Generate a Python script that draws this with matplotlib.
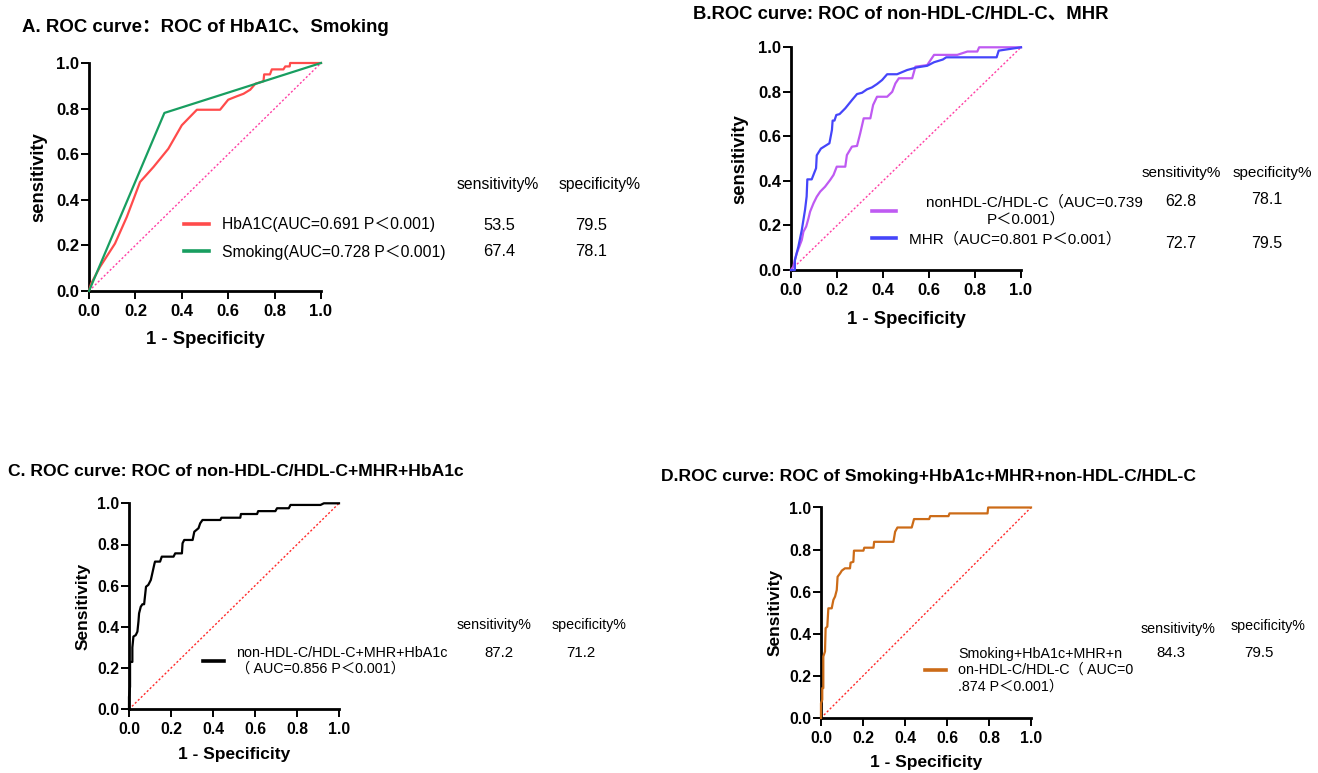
import matplotlib
matplotlib.use('Agg')
import matplotlib.pyplot as plt

plt.rcParams['font.family'] = ['Liberation Sans', 'Noto Sans CJK SC']

# ---- data ----
hba1c_fpr = [0, 0.009, 0.047, 0.112, 0.163, 0.22, 0.278, 0.342, 0.40, 0.465, 0.565, 0.60, 0.637,
             0.666, 0.695, 0.717, 0.752, 0.755, 0.78, 0.788, 0.838, 0.846, 0.865, 0.867, 1.0]
hba1c_tpr = [0, 0.032, 0.105, 0.208, 0.325, 0.478, 0.544, 0.624, 0.727, 0.795, 0.795, 0.839, 0.854,
             0.865, 0.883, 0.909, 0.92, 0.95, 0.95, 0.972, 0.972, 0.985, 0.985, 1.0, 1.0]
smoking_fpr = [0, 0.325, 1.0]
smoking_tpr = [0, 0.781, 1.0]

mhr_fpr = [0, 0.017, 0.017, 0.032, 0.047, 0.061, 0.068, 0.071, 0.09, 0.109, 0.112, 0.13, 0.167,
           0.178, 0.181, 0.189, 0.197, 0.211, 0.236, 0.265, 0.287, 0.309, 0.33, 0.352, 0.374, 0.396,
           0.418, 0.461, 0.505, 0.534, 0.549, 0.592, 0.622, 0.66, 0.675, 0.894, 0.903, 1.0]
mhr_tpr = [0, 0, 0.045, 0.105, 0.18, 0.27, 0.33, 0.407, 0.407, 0.457, 0.515, 0.545, 0.569,
           0.629, 0.671, 0.671, 0.696, 0.70, 0.726, 0.763, 0.79, 0.796, 0.811, 0.82, 0.835, 0.853,
           0.879, 0.879, 0.898, 0.906, 0.91, 0.917, 0.933, 0.945, 0.955, 0.955, 0.985, 1.0]
nonhdl_fpr = [0, 0.01, 0.017, 0.025, 0.036, 0.047, 0.054, 0.066, 0.076, 0.083, 0.098, 0.112, 0.127,
              0.148, 0.17, 0.185, 0.199, 0.236, 0.243, 0.265, 0.287, 0.301, 0.316, 0.345, 0.357,
              0.374, 0.418, 0.44, 0.454, 0.469, 0.527, 0.541, 0.592, 0.622, 0.723, 0.767, 0.81,
              0.818, 1.0]
nonhdl_tpr = [0, 0.015, 0.045, 0.075, 0.105, 0.135, 0.172, 0.195, 0.232, 0.262, 0.30, 0.329, 0.352,
              0.374, 0.404, 0.427, 0.464, 0.464, 0.516, 0.554, 0.557, 0.614, 0.681, 0.681, 0.741,
              0.778, 0.778, 0.80, 0.838, 0.861, 0.861, 0.913, 0.92, 0.966, 0.966, 0.981, 0.981,
              1.0, 1.0]

comb3_fpr = [0, 0, 0.005, 0.005, 0.016, 0.016, 0.021, 0.032, 0.04, 0.045, 0.048, 0.056, 0.064,
             0.072, 0.081, 0.092, 0.104, 0.111, 0.121, 0.124, 0.148, 0.156, 0.212, 0.22, 0.252,
             0.255, 0.263, 0.303, 0.311, 0.331, 0.339, 0.35, 0.435, 0.44, 0.53, 0.533, 0.61, 0.615,
             0.697, 0.705, 0.761, 0.769, 0.912, 0.928, 1.0]
comb3_tpr = [0, 0.06, 0.11, 0.23, 0.23, 0.30, 0.353, 0.36, 0.377, 0.426, 0.466, 0.498, 0.51,
             0.51, 0.595, 0.604, 0.628, 0.66, 0.706, 0.717, 0.717, 0.741, 0.741, 0.757, 0.757,
             0.806, 0.822, 0.822, 0.862, 0.879, 0.903, 0.919, 0.919, 0.93, 0.93, 0.948, 0.948, 0.962,
             0.962, 0.976, 0.976, 0.992, 0.992, 1.0, 1.0]

comb4_fpr = [0, 0, 0.006, 0.006, 0.011, 0.011, 0.019, 0.022, 0.03, 0.035, 0.051, 0.059, 0.067,
             0.075, 0.079, 0.091, 0.099, 0.114, 0.138, 0.141, 0.154, 0.157, 0.202, 0.206, 0.25,
             0.253, 0.345, 0.353, 0.364, 0.432, 0.443, 0.515, 0.52, 0.607, 0.612, 0.793, 0.796, 1.0]
comb4_tpr = [0, 0.07, 0.087, 0.142, 0.142, 0.292, 0.316, 0.427, 0.434, 0.521, 0.521, 0.561, 0.577,
             0.608, 0.671, 0.687, 0.70, 0.711, 0.711, 0.738, 0.742, 0.795, 0.795, 0.809, 0.809,
             0.837, 0.837, 0.885, 0.905, 0.905, 0.945, 0.945, 0.959, 0.959, 0.972, 0.972, 1.0, 1.0]

ticks = [0.0, 0.2, 0.4, 0.6, 0.8, 1.0]

a_labels = ['HbA1C(AUC=0.691 P＜0.001)', 'Smoking(AUC=0.728 P＜0.001)']
a_sens = ['53.5', '67.4']
a_spec = ['79.5', '78.1']
b_labels = ['    nonHDL-C/HDL-C（AUC=0.739\nP＜0.001）', 'MHR（AUC=0.801 P＜0.001）']
b_sens = ['62.8', '72.7']
b_spec = ['78.1', '79.5']
c_labels = ['non-HDL-C/HDL-C+MHR+HbA1c\n（ AUC=0.856 P＜0.001）']
c_sens = ['87.2']
c_spec = ['71.2']
d_labels = ['Smoking+HbA1c+MHR+n\non-HDL-C/HDL-C（ AUC=0\n.874 P＜0.001）']
d_sens = ['84.3']
d_spec = ['79.5']

W, H = 1318, 773
fig = plt.figure(figsize=(W / 100, H / 100), dpi=100)


def px(x, y):
    return x / W, 1 - y / H


def make_axes(left, top, right, bottom, tick_size, label_size, ylabel, xlab_y, ylab_x):
    ax = fig.add_axes([left / W, 1 - bottom / H, (right - left) / W, (bottom - top) / H])
    ax.set_xlim(0, 1)
    ax.set_ylim(0, 1)
    ax.set_xticks(ticks)
    ax.set_yticks(ticks)
    ax.set_xticklabels(['%.1f' % t for t in ticks])
    ax.set_yticklabels(['%.1f' % t for t in ticks])
    ax.spines['top'].set_visible(False)
    ax.spines['right'].set_visible(False)
    ax.spines['left'].set_linewidth(2)
    ax.spines['bottom'].set_linewidth(2)
    ax.tick_params(direction='out', length=5.5, width=1.4, labelsize=tick_size)
    ax.tick_params(axis='x', pad=4)
    ax.tick_params(axis='y', pad=1.5)
    for lab in ax.get_xticklabels() + ax.get_yticklabels():
        lab.set_fontweight('bold')
    ax.set_xlabel('1 - Specificity', fontsize=label_size, fontweight='bold')
    ax.set_ylabel(ylabel, fontsize=label_size, fontweight='bold')
    ax.xaxis.label.set_va('center')
    ax.yaxis.label.set_va('center')
    ax.xaxis.set_label_coords(0.5, (bottom - xlab_y) / (bottom - top))
    ax.yaxis.set_label_coords((ylab_x - left) / (right - left), 0.5)
    return ax


def table(ax, handles, labels, fs, lx, ly, hl, htp, ls, hdr, sens, spec, val_x, sens_y, spec_y,
          multi='left'):
    leg = ax.legend(handles=handles, labels=labels, loc='center left',
                    bbox_to_anchor=px(lx, ly), bbox_transform=fig.transFigure,
                    frameon=False, fontsize=fs, handlelength=hl, handletextpad=htp,
                    labelspacing=ls, borderpad=0, borderaxespad=0)
    for l in leg.get_lines():
        l.set_linewidth(2.6)
    for t in leg.get_texts():
        t.set_multialignment(multi)
    fig.text(*px(*hdr[0]), 'sensitivity%', fontsize=fs, ha='center', va='center')
    fig.text(*px(*hdr[1]), 'specificity%', fontsize=fs, ha='center', va='center')
    for v, y in zip(sens, sens_y):
        fig.text(*px(val_x[0], y), v, fontsize=fs + 0.5, ha='center', va='center')
    for v, y in zip(spec, spec_y):
        fig.text(*px(val_x[1], y), v, fontsize=fs + 0.5, ha='center', va='center')


# ---- A ----
axA = make_axes(89, 63, 321, 291, 12, 13.3, 'sensitivity', 340, 39)
lA1, = axA.plot(hba1c_fpr, hba1c_tpr, color='#FF4B4B', lw=1.6, clip_on=False, zorder=3)
lA2, = axA.plot(smoking_fpr, smoking_tpr, color='#189E60', lw=1.6, clip_on=False, zorder=3)
axA.plot([0, 1], [0, 1], color='#FF3FA4', lw=1, ls=(0, (1.5, 1.5)))
fig.text(*px(22, 28), 'A. ROC curve：ROC of HbA1C、Smoking', fontsize=13.4, fontweight='bold', va='center')
table(axA, [lA1, lA2], a_labels, 11.3, 184, 238.5, 1.6, 0.85, 0.77,
      [(498, 184), (600, 184)], a_sens, a_spec, [499, 591], [225, 252], [225, 252])

# ---- B ----
axB = make_axes(791, 47.3, 1021, 270, 12, 13.3, 'sensitivity', 319, 740)
lB1, = axB.plot(nonhdl_fpr, nonhdl_tpr, color='#BF5AF2', lw=1.6, clip_on=False, zorder=3)
lB2, = axB.plot(mhr_fpr, mhr_tpr, color='#4545FA', lw=1.6, clip_on=False, zorder=3)
axB.plot([0, 1], [0, 1], color='#FF3FA4', lw=1, ls=(0, (1.5, 1.5)))
fig.text(*px(693, 14), 'B.ROC curve: ROC of non-HDL-C/HDL-C、MHR', fontsize=13.3, fontweight='bold', va='center')
table(axB, [lB1, lB2], b_labels, 11, 872, 221, 1.6, 0.85, 0.35,
      [(1181, 173), (1272, 173)], b_sens, b_spec, [1181, 1267], [202, 244], [200, 244],
      multi='center')

# ---- C ----
axC = make_axes(129, 503.3, 339, 709.3, 11.3, 12.5, 'Sensitivity', 754, 83)
lC1, = axC.plot(comb3_fpr, comb3_tpr, color='black', lw=1.6, clip_on=False, zorder=3)
axC.plot([0, 1], [0, 1], color='#FF2A2A', lw=1, ls=(0, (1.5, 1.5)))
fig.text(*px(8, 471), 'C. ROC curve: ROC of non-HDL-C/HDL-C+MHR+HbA1c', fontsize=12.6, fontweight='bold', va='center')
table(axC, [lC1], c_labels, 10.3, 203, 661, 1.5, 0.8, 0.4,
      [(494, 625), (589, 625)], c_sens, c_spec, [499, 581], [653], [653])

# ---- D ----
axD = make_axes(821, 507.5, 1031, 718, 11.3, 12.5, 'Sensitivity', 763, 775)
lD1, = axD.plot(comb4_fpr, comb4_tpr, color='#CC6B17', lw=1.6, clip_on=False, zorder=3)
axD.plot([0, 1], [0, 1], color='#FF2A2A', lw=1, ls=(0, (1.5, 1.5)))
fig.text(*px(661, 476), 'D.ROC curve: ROC of Smoking+HbA1c+MHR+non-HDL-C/HDL-C', fontsize=12.6, fontweight='bold', va='center')
table(axD, [lD1], d_labels, 10.3, 925, 670, 1.5, 0.8, 0.4,
      [(1178, 629), (1268, 626)], d_sens, d_spec, [1171, 1259], [653], [653])

plt.savefig('out.png', dpi=100)
